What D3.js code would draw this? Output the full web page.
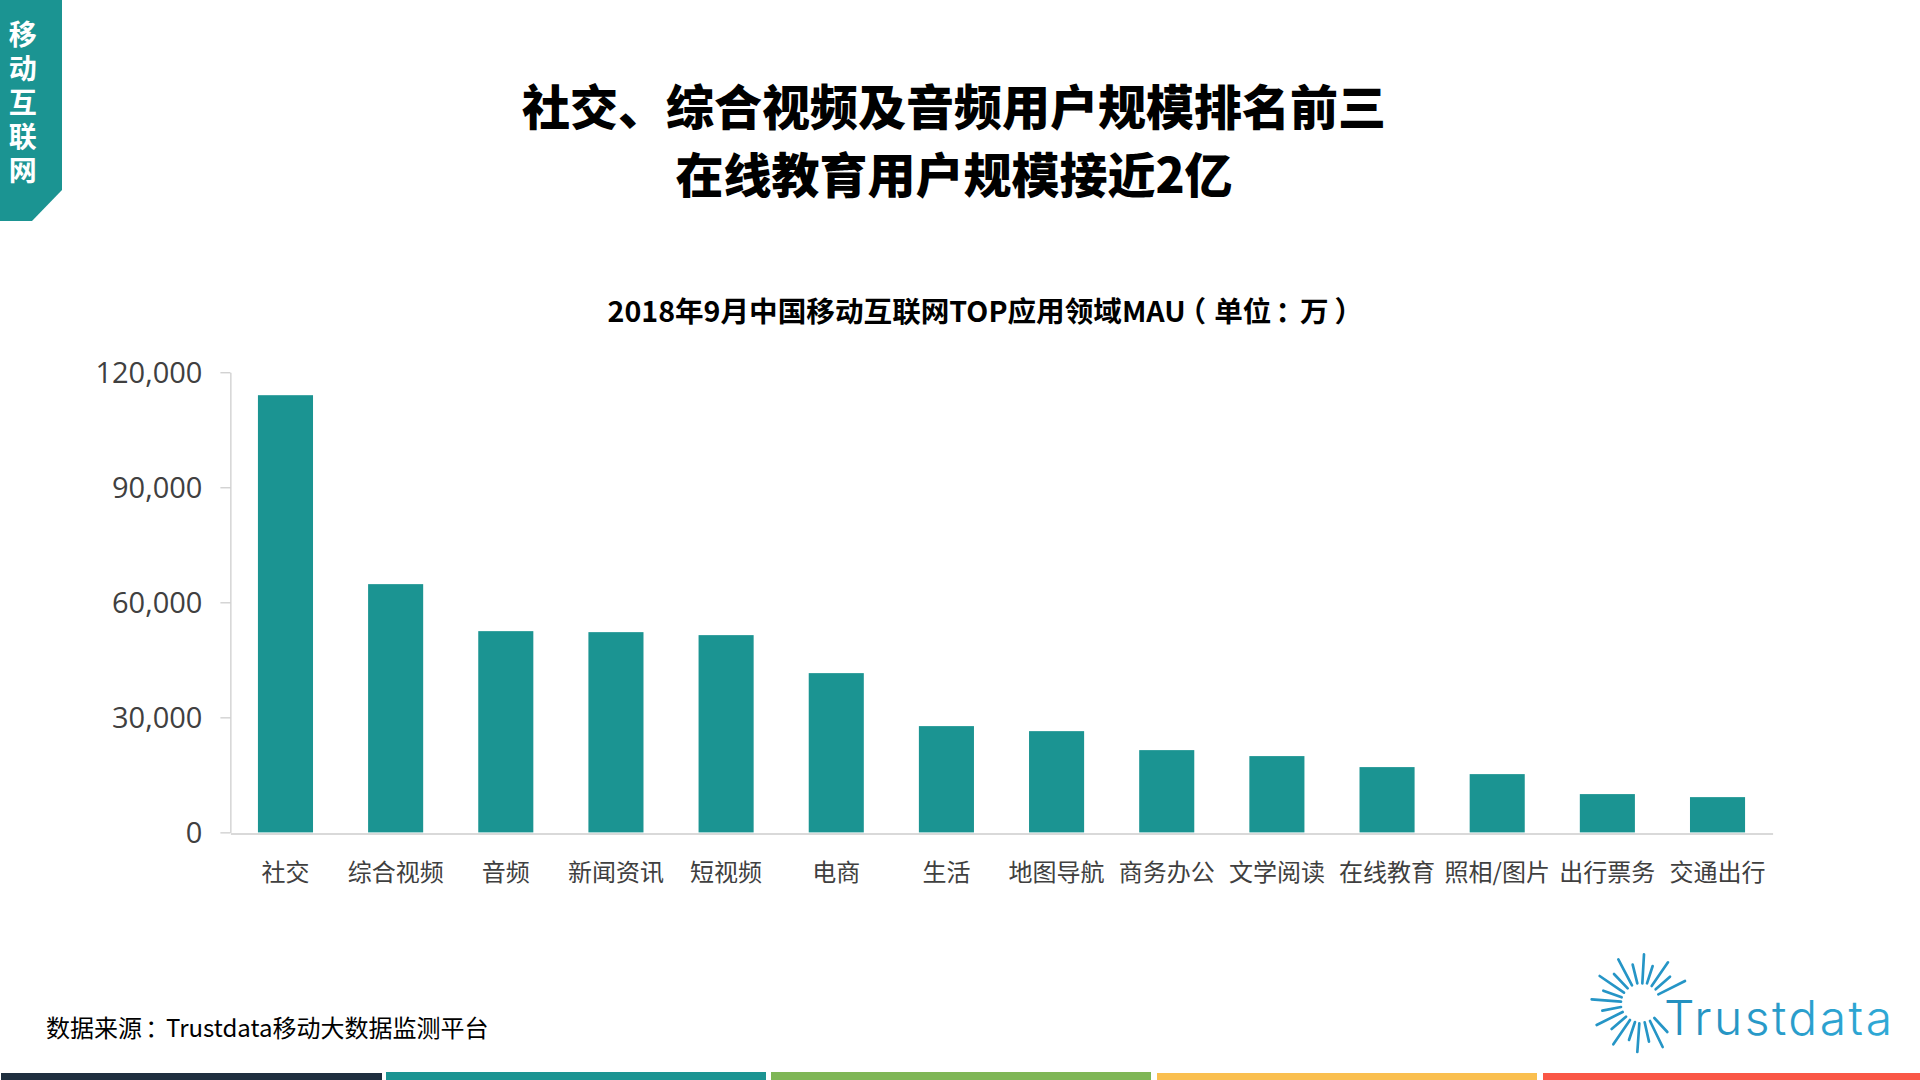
<!DOCTYPE html>
<html lang="zh-CN">
<head>
<meta charset="utf-8">
<title>社交、综合视频及音频用户规模排名前三</title>
<script src="https://cdn.jsdelivr.net/npm/d3@7/dist/d3.min.js"></script>
<style>
html,body{margin:0;padding:0;background:#fff;overflow:hidden}
svg{display:block}
text{font-family:"Noto Sans CJK SC","Noto Sans",sans-serif}
</style>
</head>
<body>
<svg id="c" width="1920" height="1080"></svg>
<script>
const categories = ["社交","综合视频","音频","新闻资讯","短视频","电商","生活","地图导航","商务办公","文学阅读","在线教育","照相/图片","出行票务","交通出行"];
const mau = [114030,64750,52490,52230,51450,41540,27720,26410,21460,19900,17030,15200,9990,9200];
const yTicks = [0,30000,60000,90000,120000];
const titleLines = ["社交、综合视频及音频用户规模排名前三","在线教育用户规模接近2亿"];
const subtitle = "2018年9月中国移动互联网TOP应用领域MAU（单位：万）";
const sourceNote = "数据来源：Trustdata移动大数据监测平台";
const bannerChars = ["移","动","互","联","网"];
const footerColors = ["#1f2f3f","#1b9492","#7fb656","#fabf4f","#fa5746"];
const footerRanges = [[1,382,1073],[386,766,1072],[771,1151,1072],[1157,1537,1073],[1543,1920,1073]];
// decorative logo rays: outer x, outer y, inner x, inner y
const logoRays = [[312,103,307,190],[338,138,321,190],[384,127,335,198],[390,170,347,208],[435,183,355,223],
  [235,118,276,196],[278,134,292,190],[222,162,263,205],[179,168,252,218],[190,212,245,232],[155,238,243,245],
  [187,272,243,261],[170,315,248,276],[215,327,258,290],[220,373,270,300],[267,360,285,306],[292,396,298,310],
  [327,365,314,307],[368,381,330,303],[382,336,343,294]];

const svg = d3.select("#c");
const plot = {left:230.4,right:1772.6,top:372.3,bottom:832.4};
const x = d3.scaleBand().domain(categories).range([plot.left,plot.right]).paddingInner(0.5).paddingOuter(0.25);
const y = d3.scaleLinear().domain([0,120000]).range([plot.bottom,plot.top]);
// shift of each full-width punctuation glyph inside its em box, to centre it as in the reference
const punctShift = {"（":-0.28,"：":0.14,"）":0.2};
const charDx = (str, size) => Array.from(str).map((c,i,a) =>
  (((punctShift[c]||0) - (punctShift[a[i-1]]||0)) * size).toFixed(2)).join(" ");

// corner banner
svg.append("path").attr("fill","#1b9492").attr("d","M0 0H62V190L32 221H0Z");
svg.append("text").attr("x",22.7).attr("y",20).attr("fill","#fff").attr("font-size",28).attr("font-weight",700)
  .style("writing-mode","vertical-rl").style("text-orientation","upright").style("letter-spacing","6.2px")
  .text(bannerChars.join(""));

// titles
svg.selectAll("text.title").data(titleLines).join("text").attr("class","title")
  .attr("x",954).attr("y",(d,i)=>108+i*68).attr("dy","0.36em").attr("text-anchor","middle")
  .attr("fill","#000").attr("font-size",48).attr("font-weight",900).text(d=>d);
svg.append("text").attr("x",607.5).attr("y",321.8).attr("dx",charDx(subtitle,28.6))
  .attr("fill","#000").attr("font-size",28.6).attr("font-weight",700).text(subtitle);

// y axis
const gy = svg.append("g").attr("transform",`translate(${plot.left},0)`)
  .call(d3.axisLeft(y).tickValues(yTicks).tickFormat(d3.format(",")).tickSize(10).tickSizeOuter(0).tickPadding(18));
gy.selectAll("path,line").attr("stroke","#bfbfbf").attr("stroke-width",1);
gy.selectAll("text").attr("fill","#404040").attr("font-size",29).attr("y",1).style("font-family",'"Open Sans",sans-serif');

// bars
svg.selectAll("rect.bar").data(mau).join("rect").attr("class","bar")
  .attr("x",(d,i)=>x(categories[i])).attr("width",x.bandwidth())
  .attr("y",d=>y(d)).attr("height",d=>y(0)-y(d)).attr("fill","#1b9492");

// x axis
const gx = svg.append("g").attr("transform",`translate(0,${plot.bottom+1})`)
  .call(d3.axisBottom(x).tickSize(0).tickPadding(31));
gx.select("path").attr("stroke","#d9d9d9").attr("stroke-width",2);
gx.selectAll("text").attr("fill","#404040").attr("font-size",24);

// source
svg.append("text").attr("x",46).attr("y",1036.6).attr("dx",charDx(sourceNote,24)).attr("fill","#000")
  .attr("font-size",24).text(sourceNote);

// footer
svg.selectAll("rect.foot").data(footerRanges).join("rect").attr("class","foot")
  .attr("x",d=>d[0]).attr("width",d=>d[1]-d[0]).attr("y",d=>d[2]).attr("height",d=>1080-d[2])
  .attr("fill",(d,i)=>footerColors[i]);

// logo
const grad = svg.append("defs").append("linearGradient").attr("id","logoGrad")
  .attr("gradientUnits","userSpaceOnUse").attr("x1",1590).attr("x2",1892).attr("y1",0).attr("y2",0);
grad.append("stop").attr("offset",0).attr("stop-color","#1f86b6");
grad.append("stop").attr("offset",1).attr("stop-color","#2fa9d6");
const logo = svg.append("g").attr("transform","translate(1540,920) scale(0.33333)");
logo.selectAll("line").data(logoRays).join("line")
  .attr("x1",d=>d[0]).attr("y1",d=>d[1]).attr("x2",d=>d[2]).attr("y2",d=>d[3])
  .attr("stroke","#2595c6").attr("stroke-width",8).attr("stroke-linecap","round");
svg.append("text").attr("x",1664).attr("y",1035).attr("fill","url(#logoGrad)")
  .attr("font-size",48).attr("font-weight",300).style("font-family","Inter,sans-serif")
  .attr("textLength",228).attr("lengthAdjust","spacing").text("Trustdata");
</script>
</body>
</html>
